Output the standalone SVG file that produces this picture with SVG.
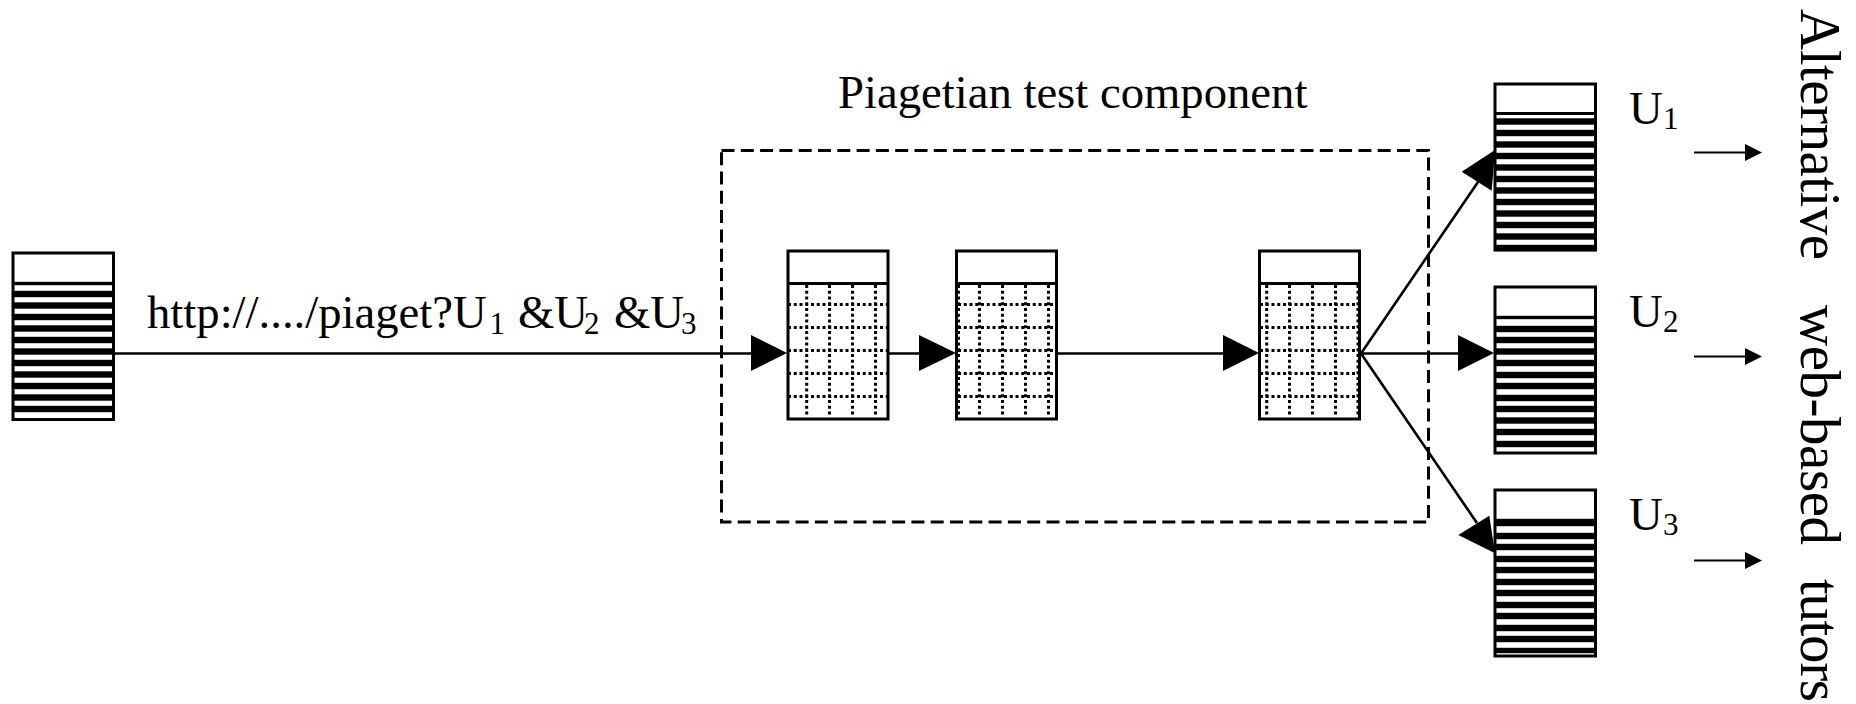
<svg xmlns="http://www.w3.org/2000/svg" width="1856" height="704" viewBox="0 0 1856 704">
<style>
text{font-family:"Liberation Serif","Times New Roman",serif;fill:#000}
.t{font-size:46.7px}
.sub{font-size:31px}
.side{font-size:57px}
.box{fill:#fff;stroke:#000;stroke-width:3}
.div{stroke:#000;stroke-width:3}
.st{fill:#000}
.bars{fill:#000;stroke:#000;stroke-width:.4}
.dot{stroke:#000;stroke-width:3;stroke-dasharray:3 2.75;fill:none}
.con{stroke:#000;stroke-width:2.6;fill:none}
.thin{stroke:#000;stroke-width:2;fill:none}
.dash{stroke:#000;stroke-width:3;stroke-dasharray:13 6.3;fill:none}
</style>
<rect width="1856" height="704" fill="#fff"/>
<g id="component-frame"><rect class="dash" x="721.5" y="150.5" width="707" height="371.5"/></g>
<g id="source">
<rect class="box" x="13" y="253" width="100.500" height="166.500"/>
<path class="bars" d="M13 282h101v3H13zM13 291h101v6H13zM13 302.500h101v6H13zM13 314h101v6H13zM13 325.500h101v6H13zM13 337h101v6H13zM13 348.500h101v6H13zM13 360h101v6H13zM13 371.500h101v6H13zM13 383h101v6H13zM13 394.500h101v6H13zM13 406h101v6H13z"/>
</g>
<g id="test1">
<rect class="box" x="788" y="251" width="100" height="168"/>
<path class="div" d="M788 283.500H888"/>
<path class="dot" d="M788 304.500H888M788 327.500H888M788 350.500H888M788 373.500H888M788 396.500H888M806.700 285V417M829.500 285V417M852.500 285V417M875.500 285V417"/>
</g>
<g id="test2">
<rect class="box" x="956.500" y="251" width="100" height="168"/>
<path class="div" d="M956.500 283.500H1056.500"/>
<path class="dot" d="M958 304.500H1056M958 327.500H1056M958 350.500H1056M958 373.500H1056M958 396.500H1056M958.500 285V417M979.500 285V417M1002.500 285V417M1025.500 285V417M1048.500 285V417"/>
</g>
<g id="test3">
<rect class="box" x="1259.500" y="251" width="100" height="168"/>
<path class="div" d="M1259.500 283.500H1359.500"/>
<path class="dot" d="M1260 304.500H1358M1260 327.500H1358M1260 350.500H1358M1260 373.500H1358M1260 396.500H1358M1266.700 285V417M1289.500 285V417M1312.500 285V417M1335.500 285V417M1358 285V417"/>
</g>
<g id="u1">
<rect class="box" x="1495" y="84" width="100.500" height="166"/>
<path class="div" d="M1495 113.500H1595.500"/>
<path class="bars" d="M1495 118.500h101v6h-101zM1495 130h101v6h-101zM1495 141.500h101v6h-101zM1495 153h101v6h-101zM1495 164.500h101v6h-101zM1495 176h101v6h-101zM1495 187.500h101v6h-101zM1495 199h101v6h-101zM1495 210.500h101v6h-101zM1495 222h101v6h-101zM1495 233.500h101v6h-101zM1495 245h101v6h-101z"/>
</g>
<g id="u2">
<rect class="box" x="1495" y="287" width="100.500" height="166"/>
<path class="bars" d="M1495 316h101v3h-101zM1495 326h101v6h-101zM1495 337h101v6h-101zM1495 348.500h101v6h-101zM1495 360h101v6h-101zM1495 372h101v6h-101zM1495 383h101v6h-101zM1495 395h101v6h-101zM1495 406h101v6h-101zM1495 417.500h101v6h-101zM1495 429h101v6h-101zM1495 441h101v6h-101z"/>
</g>
<g id="u3">
<rect class="box" x="1495" y="490" width="100.500" height="166"/>
<path class="bars" d="M1495 519h101v7h-101zM1495 533h101v6h-101zM1495 544h101v6h-101zM1495 556h101v6h-101zM1495 567h101v6h-101zM1495 579h101v6h-101zM1495 590h101v6h-101zM1495 602h101v6h-101zM1495 613h101v6h-101zM1495 625h101v6h-101zM1495 636h101v6h-101zM1495 648h101v5h-101z"/>
</g>
<g id="connectors">
<path class="con" d="M114 353.500H752M888 353.500H920M1057 353.500H1224M1360 353.500H1459M1361 353.500L1478 182M1361 353.500L1477 523"/>
<path class="st" d="M751 335L787 353L751 371zM919 335L956 353L919 371zM1223 335L1259 353L1223 371zM1458 335L1494 353L1458 371zM1461.700 171.700L1495 150L1491.700 190.700zM1458.300 535L1489.300 515.700L1495 553.300z"/>
<path class="thin" d="M1694 152.500H1746M1694 356.500H1746M1694 560.500H1746"/>
<path class="st" d="M1745 144L1762 152.500L1745 161zM1745 348L1762 356.500L1745 365zM1745 552L1762 560.500L1745 569z"/>
</g>
<g id="labels">
<text class="t" x="838" y="108">Piagetian test component</text>
<text class="t" x="147" y="327.500">http://..../piaget?<tspan letter-spacing="-7">U</tspan><tspan class="sub" x="489.500" y="333.500">1</tspan><tspan x="518" y="327.500">&amp;U</tspan><tspan class="sub" x="584" y="333.500">2</tspan><tspan x="614" y="327.500">&amp;U</tspan><tspan class="sub" x="681" y="333.500">3</tspan></text>
<text class="t" x="1629" y="124">U<tspan class="sub" x="1663" y="129">1</tspan></text>
<text class="t" x="1629" y="327">U<tspan class="sub" x="1663" y="332">2</tspan></text>
<text class="t" x="1629" y="530">U<tspan class="sub" x="1663" y="535">3</tspan></text>
<text class="side" transform="translate(1801 9) rotate(90)" textLength="251">Alternative</text>
<text class="side" transform="translate(1801 305) rotate(90)" textLength="240">web-based</text>
<text class="side" transform="translate(1801 579) rotate(90)" textLength="123">tutors</text>
</g>
</svg>
